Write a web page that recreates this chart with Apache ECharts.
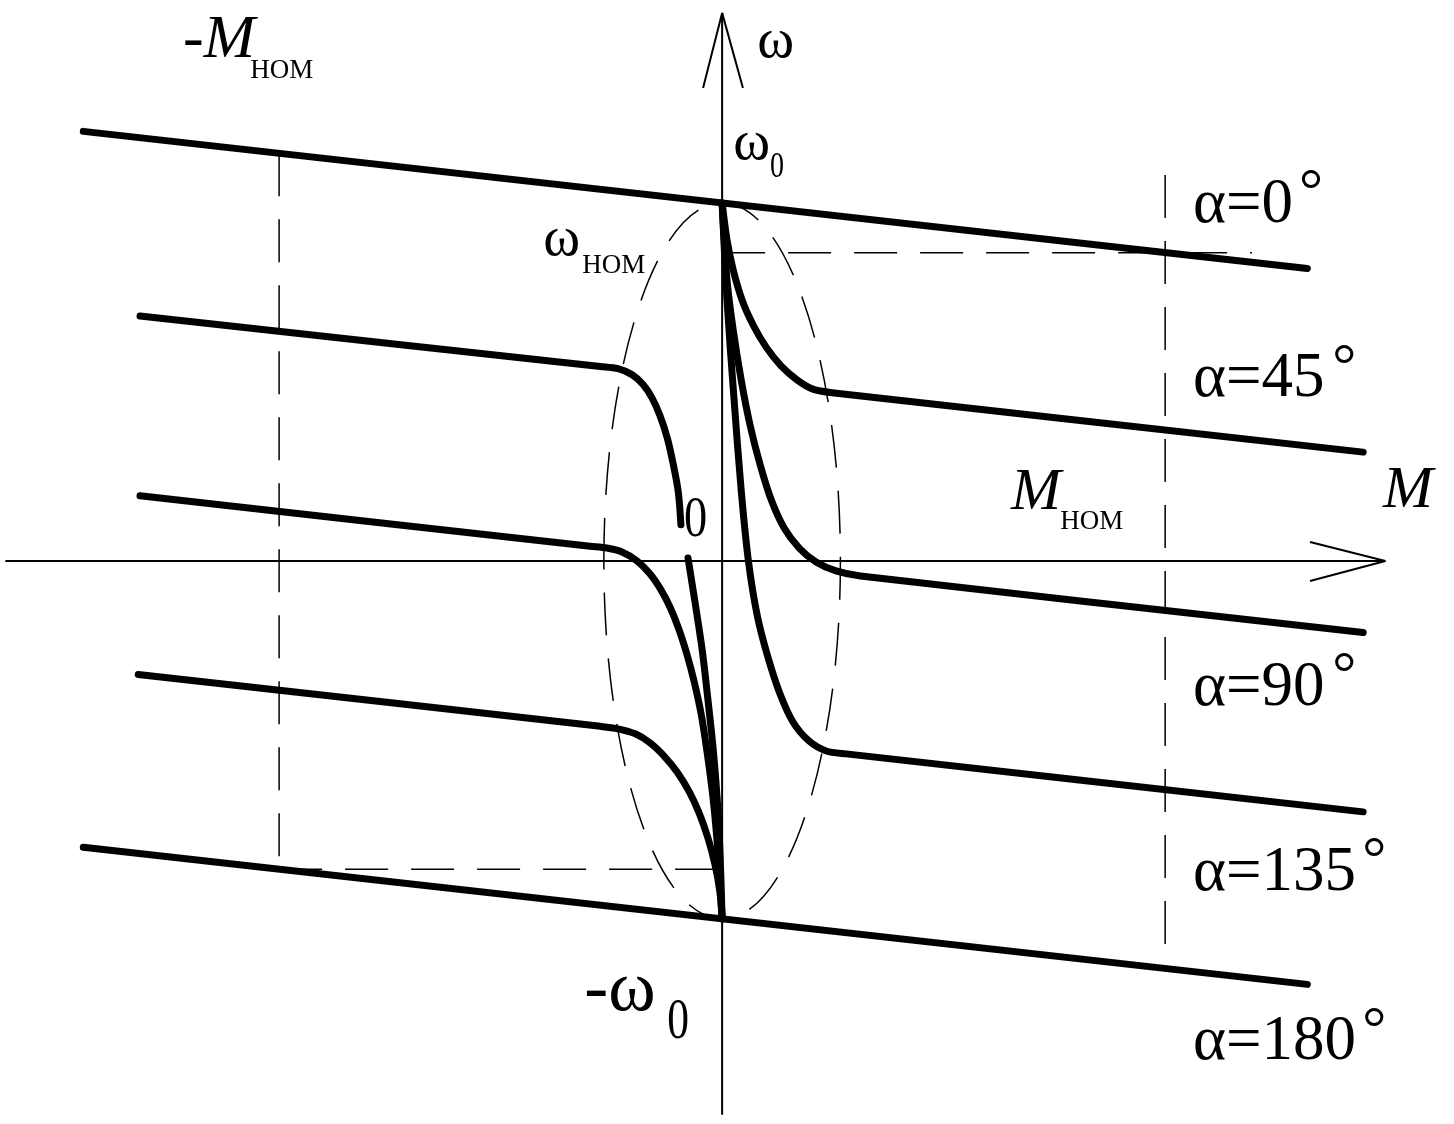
<!DOCTYPE html>
<html>
<head>
<meta charset="utf-8">
<script src="https://cdn.jsdelivr.net/npm/echarts@6/dist/echarts.min.js"></script>
<style>
  html, body { margin: 0; background: #fff; }
  #chart { width: 1454px; height: 1124px; }
</style>
</head>
<body>
<div id="chart"></div>
<script>
// M in units of M_nom, omega in units of omega_0
const alpha0 = [[-1.442, 1.200], [1.321, 0.817]];
const alpha180 = [[-1.442, -0.800], [1.321, -1.183]];

const alpha45Right = [
  [0, 1.000], [0.011, 0.897], [0.025, 0.813], [0.045, 0.729], [0.070, 0.659],
  [0.099, 0.598], [0.133, 0.545], [0.169, 0.506], [0.205, 0.480], [0.248, 0.470],
  [1.447, 0.304]
];
const alpha45LeftUpper = [
  [-1.314, 0.684], [-0.275, 0.543], [-0.235, 0.537], [-0.203, 0.520], [-0.178, 0.492],
  [-0.158, 0.455], [-0.140, 0.405], [-0.124, 0.344], [-0.111, 0.274], [-0.099, 0.193],
  [-0.093, 0.101]
];
const alpha45LeftLower = [
  [-0.077, 0.008], [-0.061, -0.117], [-0.045, -0.249], [-0.032, -0.388],
  [-0.020, -0.528], [-0.011, -0.668], [-0.005, -0.807], [0, -1.000]
];

const alpha90Right = [
  [0, 1.000], [0.011, 0.785], [0.025, 0.645], [0.043, 0.506], [0.063, 0.380],
  [0.086, 0.268], [0.111, 0.170], [0.140, 0.092], [0.174, 0.036], [0.212, -0.003],
  [0.257, -0.028], [0.312, -0.042], [1.447, -0.200]
];
const alpha90Left = [
  [-1.314, 0.182], [-0.298, 0.041], [-0.260, 0.036], [-0.226, 0.025], [-0.192, 0.000],
  [-0.163, -0.036], [-0.138, -0.081], [-0.117, -0.131], [-0.097, -0.193], [-0.079, -0.263],
  [-0.063, -0.338], [-0.047, -0.430], [-0.034, -0.534], [-0.020, -0.668], [-0.009, -0.821],
  [0, -1.000]
];

const alpha135Right = [
  [0, 1.000], [0.011, 0.729], [0.027, 0.450], [0.043, 0.198], [0.059, 0.003],
  [0.079, -0.151], [0.102, -0.263], [0.129, -0.366], [0.160, -0.450], [0.196, -0.503],
  [0.235, -0.531], [0.280, -0.539], [1.447, -0.701]
];
const alpha135Left = [
  [-1.318, -0.317], [-0.275, -0.462], [-0.235, -0.469], [-0.196, -0.483], [-0.163, -0.508],
  [-0.131, -0.545], [-0.102, -0.589], [-0.074, -0.645], [-0.052, -0.704], [-0.032, -0.774],
  [-0.016, -0.849], [-0.005, -0.925], [0, -1.000]
];

// axes with open arrow heads
const axisM = [[-1.618, 0], [1.497, 0]];
const arrowM = [[1.327, 0.053], [1.497, 0], [1.327, -0.056]];
const axisW = [[0, -1.547], [0, 1.531]];
const arrowW = [[-0.043, 1.321], [0, 1.531], [0.047, 1.321]];

// dashed construction lines
const dashMnomNeg = [[-1, 1.139], [-1, -0.861]];
const dashMnom = [[1, 1.078], [1, -1.139]];
const dashWnom = [[0, 0.861], [1.196, 0.861]];
const dashWnomNeg = [[-1, -0.861], [0, -0.861]];
const zoneEllipse = [[0, 0, 0.267, 1.0]]; // centre M, centre w, half-width, half-height

const SERIF = '"Liberation Serif", "Times New Roman", serif';
const notes = [
  { t: 'ω', at: [0.079, 1.450], f: '56px ' + SERIF },
  { t: 'ω', at: [0.025, 1.165], f: '56px ' + SERIF },
  { t: '0', at: [0.108, 1.098], f: '36px ' + SERIF, sx: 0.78 },
  { t: 'ω', at: [-0.404, 0.897], f: '56px ' + SERIF },
  { t: 'НОМ', at: [-0.316, 0.824], f: '27px ' + SERIF },
  { t: '-M', at: [-1.217, 1.453], f: 'italic 62px ' + SERIF },
  { t: 'НОМ', at: [-1.065, 1.369], f: '27px ' + SERIF },
  { t: 'M', at: [0.652, 0.190], f: 'italic 60px ' + SERIF },
  { t: 'НОМ', at: [0.763, 0.109], f: '27px ' + SERIF },
  { t: 'M', at: [1.492, 0.196], f: 'italic 60px ' + SERIF },
  { t: '0', at: [-0.086, 0.112], f: '58px ' + SERIF, sx: 0.8 },
  { t: '-ω', at: [-0.311, -1.201], f: '72px ' + SERIF },
  { t: '0', at: [-0.124, -1.291], f: '58px ' + SERIF, sx: 0.75 },
  { t: 'α=0', at: [1.063, 0.994], f: '63px ' + SERIF },
  { t: '°', at: [1.302, 1.025], f: '60px ' + SERIF },
  { t: 'α=45', at: [1.063, 0.506], f: '63px ' + SERIF },
  { t: '°', at: [1.377, 0.536], f: '60px ' + SERIF },
  { t: 'α=90', at: [1.063, -0.355], f: '63px ' + SERIF },
  { t: '°', at: [1.377, -0.324], f: '60px ' + SERIF },
  { t: 'α=135', at: [1.063, -0.872], f: '63px ' + SERIF },
  { t: '°', at: [1.445, -0.841], f: '60px ' + SERIF },
  { t: 'α=180', at: [1.063, -1.346], f: '63px ' + SERIF },
  { t: '°', at: [1.445, -1.318], f: '60px ' + SERIF }
];

function thick(data, smooth) {
  return {
    type: 'line', data: data, showSymbol: false, smooth: smooth || false, silent: true, z: 4,
    lineStyle: { color: '#000', width: 7, cap: 'round', join: 'round' }
  };
}
function thin(data) {
  return {
    type: 'line', data: data, showSymbol: false, silent: true, z: 3,
    lineStyle: { color: '#000', width: 2 }
  };
}
function dashed(data) {
  return {
    type: 'line', data: data, showSymbol: false, silent: true, z: 2,
    lineStyle: { color: '#000', width: 1.5, type: [43, 23] }
  };
}

const chart = echarts.init(document.getElementById('chart'));
chart.setOption({
  animation: false,
  backgroundColor: '#fff',
  grid: { left: 0, right: 0, top: 0, bottom: 0 },
  xAxis: { type: 'value', min: -1.630, max: 1.652, show: false },
  yAxis: { type: 'value', min: -1.573, max: 1.567, show: false },
  series: [
    thin(axisM), thin(arrowM), thin(axisW), thin(arrowW),
    dashed(dashMnomNeg), dashed(dashMnom), dashed(dashWnom), dashed(dashWnomNeg),
    {
      type: 'custom', data: zoneEllipse, silent: true, z: 2,
      renderItem: function (params, api) {
        const c = api.coord([api.value(0), api.value(1)]);
        const s = api.size([api.value(2), api.value(3)]);
        return {
          type: 'ellipse',
          shape: { cx: c[0], cy: c[1], rx: s[0], ry: s[1] },
          style: { stroke: '#000', fill: 'none', lineWidth: 1.5, lineDash: [43, 23] }
        };
      }
    },
    thick(alpha0), thick(alpha180),
    thick(alpha45Right, 0.3), thick(alpha45LeftUpper, 0.3), thick(alpha45LeftLower, 0.3),
    thick(alpha90Right, 0.3), thick(alpha90Left, 0.3),
    thick(alpha135Right, 0.3), thick(alpha135Left, 0.3),
    {
      type: 'custom', data: notes.map(n => n.at), silent: true, z: 6,
      renderItem: function (params, api) {
        const n = notes[params.dataIndex];
        const p = api.coord([api.value(0), api.value(1)]);
        return {
          type: 'text', x: p[0], y: p[1], scaleX: n.sx || 1,
          style: { text: n.t, font: n.f, fill: '#000', align: 'left', verticalAlign: 'middle' }
        };
      }
    }
  ]
});
</script>
</body>
</html>
